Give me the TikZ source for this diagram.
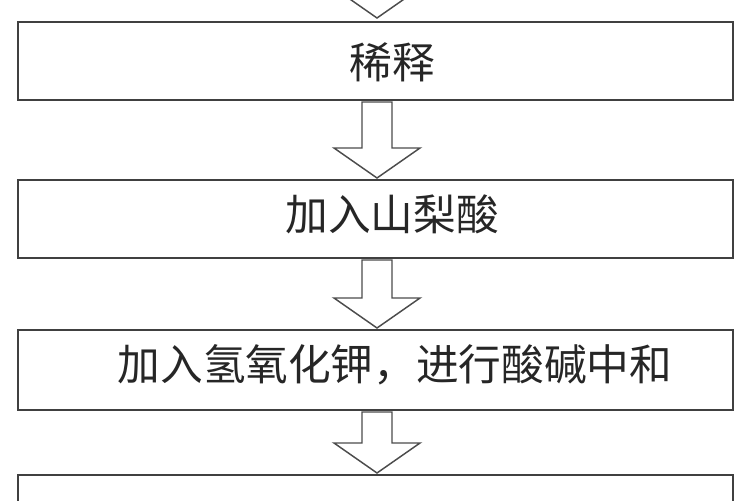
\documentclass[tikz,border=0pt]{standalone}
\usepackage{fontspec}
\newfontfamily\cjk{Noto Sans CJK SC}
\begin{document}
\begin{tikzpicture}[x=0.75pt,y=-0.75pt,
  box/.style={draw=black!75,line width=1.2pt},
  lbl/.style={font=\cjk\fontsize{32pt}{36pt}\selectfont,text=black!85},
  harrow/.style={draw=black!70,line width=1.1pt,fill=white}]
\useasboundingbox (0,0) rectangle (750,500);
\clip (0,0) rectangle (750,500);
\newcommand{\harr}[2]{\draw[harrow] (362,#1) -- (392,#1) -- (392,#2-30) -- (420,#2-30) -- (377,#2) -- (334,#2-30) -- (362,#2-30) -- cycle;}
\harr{-40}{18}
\draw[box] (18,22) rectangle (733,100); \node[lbl] (a) at (392,62) {稀释};
\harr{102}{178}
\draw[box] (18,180) rectangle (733,258); \node[lbl] (b) at (392,214) {加入山梨酸};
\harr{260}{328}
\draw[box] (18,330) rectangle (733,410); \node[lbl] (c) at (395,365) {加入氢氧化钾，进行酸碱中和};
\harr{412}{473}
\draw[box] (18,475) rectangle (733,560);
\end{tikzpicture}
\end{document}
